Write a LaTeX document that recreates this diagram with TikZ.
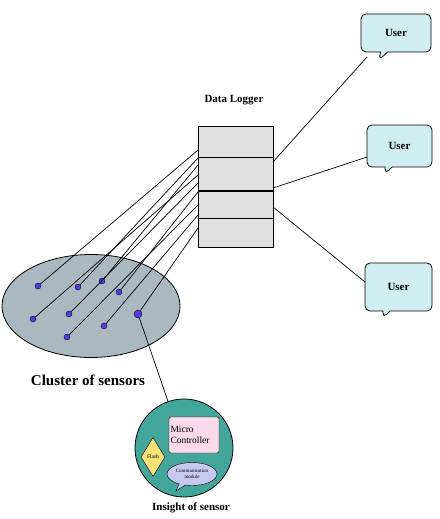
\documentclass[tikz,border=0pt]{standalone}
\usepackage{fontspec}
\setmainfont{Liberation Serif}
\usetikzlibrary{shapes.geometric,shapes.callouts}

\definecolor{loggergray}{RGB}{224,224,224}
\definecolor{clusterfill}{RGB}{170,185,192}
\definecolor{userfill}{RGB}{208,238,240}
\definecolor{sensorteal}{RGB}{66,166,154}
\definecolor{mcpink}{RGB}{250,218,232}
\definecolor{flashyellow}{RGB}{246,226,120}
\definecolor{commblue}{RGB}{200,200,240}
\definecolor{dotblue}{RGB}{88,60,210}

\tikzset{
  cell/.style={draw, fill=loggergray, minimum width=75pt, inner sep=0pt},
  user/.style={rectangle callout, draw, thick, rounded corners=5pt, fill=userfill,
    font=\bfseries\fontsize{11}{12}\selectfont, inner sep=0pt},
  sensor/.style={circle, draw=black!70!blue, fill=dotblue, inner sep=0pt, minimum size=6pt},
  wire/.style={draw, line width=0.7pt},
}

\begin{document}
\begin{tikzpicture}[x=1pt,y=-1pt,>=stealth]
  \useasboundingbox (0,0) rectangle (439,519);

  % Data logger
  \node[font=\bfseries\fontsize{11}{12}\selectfont] (logtitle) at (234,100) {Data Logger};
  \node[cell, minimum height=31pt, anchor=north west] (cell1) at (198,126) {};
  \node[cell, minimum height=33pt, anchor=north west] (cell2) at (cell1.south west) {};
  \node[cell, minimum height=27pt, anchor=north west] (cell3) at (cell2.south west) {};
  \node[cell, minimum height=29pt, anchor=north west] (cell4) at (cell3.south west) {};
  \draw[line width=1.4pt] (cell1.south west) -- (cell1.south east);
  \draw[line width=1.4pt] (cell2.south west) -- (cell2.south east);

  % Users
  \node[user, minimum width=70pt, minimum height=38pt, callout absolute pointer={(379,60)}]
    (user1) at (396,33) {User};
  \node[user, minimum width=65pt, minimum height=42pt, callout absolute pointer={(385,174)}]
    (user2) at (399.5,146) {User};
  \node[user, minimum width=67pt, minimum height=48pt, callout absolute pointer={(383,318)}]
    (user3) at (398.5,287) {User};

  \coordinate (out1) at (273,162);
  \coordinate (out2) at (273,188);
  \coordinate (out3) at (273,207);
  \coordinate (u1) at (367,57);
  \coordinate (u2) at (367,157);
  \coordinate (u3) at (365,282);
  \draw[wire] (out1) -- (u1);
  \draw[wire] (out2) -- (u2);
  \draw[wire] (out3) -- (u3);

  % Cluster of sensors
  \node[ellipse, draw, thick, fill=clusterfill, minimum width=178pt, minimum height=103pt]
    (cluster) at (91,306) {};
  \node[font=\bfseries\fontsize{15}{16}\selectfont] (clusterlabel) at (88,380) {Cluster of sensors};

  \node[sensor] (s1) at (38,286) {};
  \node[sensor] (s2) at (78,287) {};
  \node[sensor] (s3) at (102,281) {};
  \node[sensor] (s4) at (119,292) {};
  \node[sensor] (s5) at (33,319) {};
  \node[sensor] (s6) at (69,314) {};
  \node[sensor] (s7) at (104,326) {};
  \node[sensor] (s8) at (67,337) {};
  \node[sensor, minimum size=8pt] (s9) at (138,314) {};

  % inputs on the left side of the logger
  \foreach \s/\y in {s1/150, s2/158, s3/165, s5/175, s6/183, s4/192, s8/205, s7/215, s9/228}
    \draw[wire] (\s) -- (198,\y);

  % Insight of sensor
  \node[circle, draw, thick, fill=sensorteal, minimum size=98pt, inner sep=0pt]
    (insight) at (184,448) {};
  \draw[wire] (s9) -- (insight);
  \node[draw, rounded corners=2pt, fill=mcpink, minimum width=50pt, minimum height=36pt,
    align=left, font=\fontsize{9.5}{10.5}\selectfont, inner sep=1pt, text width=47pt]
    (mc) at (194,435) {Micro\\Controller};
  \node[diamond, draw, fill=flashyellow, minimum width=24pt, minimum height=39pt,
    inner sep=0pt, font=\fontsize{5.5}{6}\selectfont] (flash) at (153,457) {Flash};
  \node[ellipse callout, draw, fill=commblue, minimum width=50pt, minimum height=23pt,
    inner sep=0pt, align=center, font=\fontsize{5}{6}\selectfont,
    callout absolute pointer={(176,491)}] (comm) at (192,474) {Communication\\module};
  \node[font=\bfseries\fontsize{11}{12}\selectfont] (insightlabel) at (191,508) {Insight of sensor};

\end{tikzpicture}
\end{document}
